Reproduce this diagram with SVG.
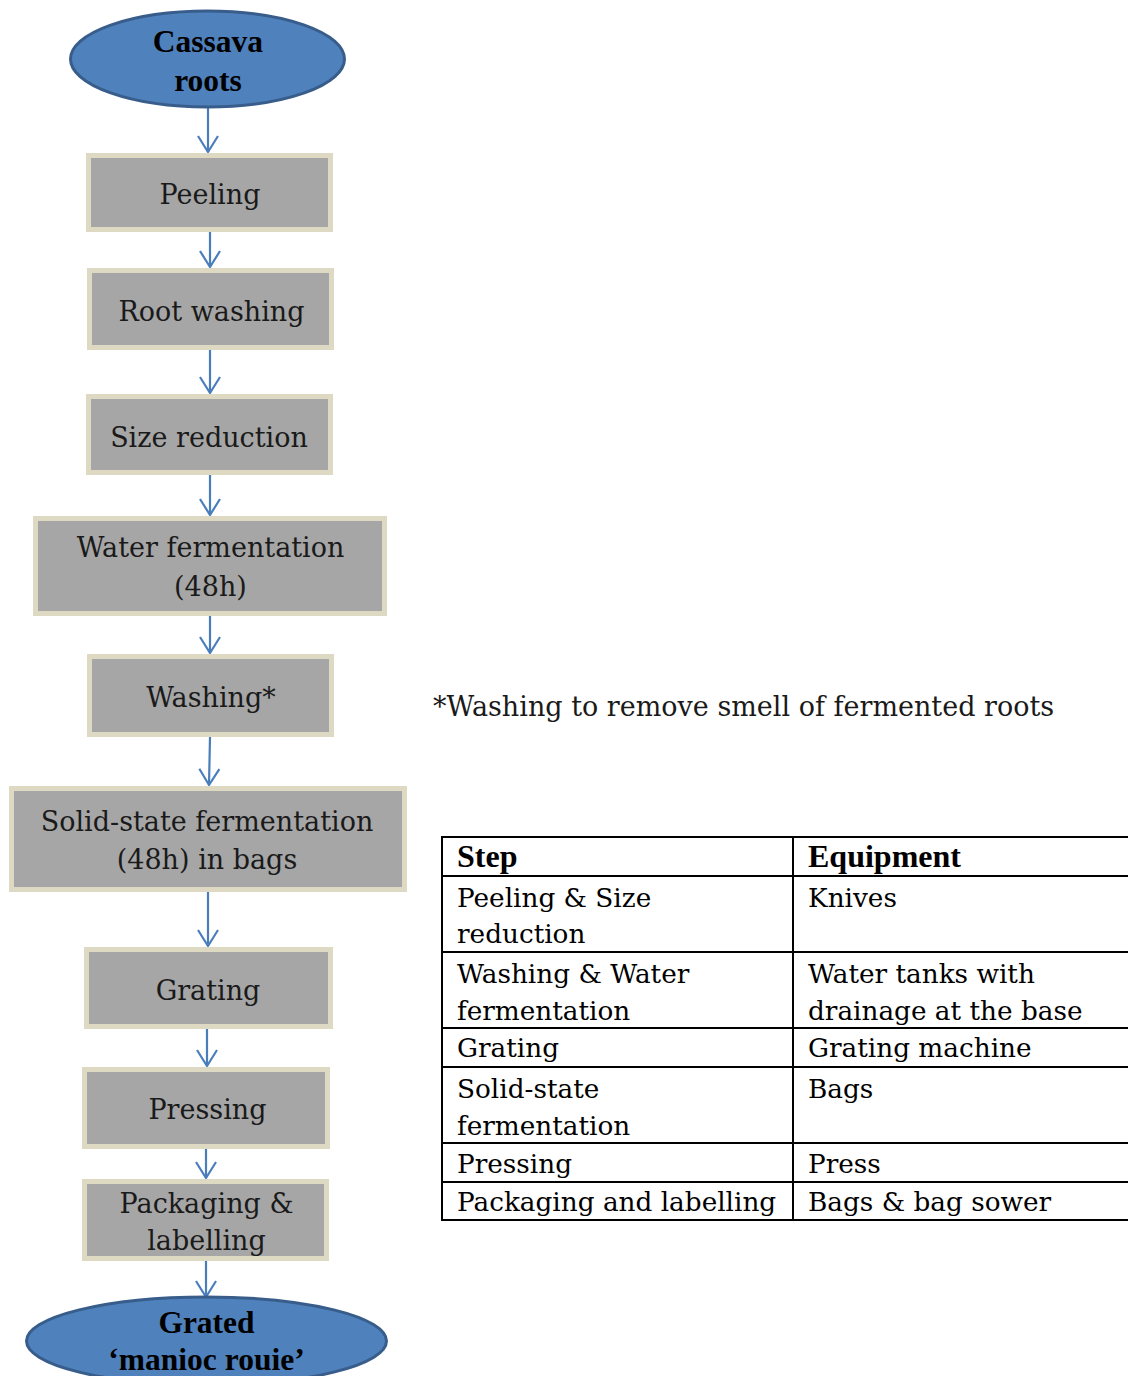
<svg xmlns="http://www.w3.org/2000/svg" width="1128" height="1376" viewBox="0 0 1128 1376">
<style>
.ell{fill:#4f81bd;stroke:#385d8a;stroke-width:3}
.box{fill:#a6a6a6;stroke:#ddd9c3;stroke-width:5}
.edge{fill:none;stroke:#d0ccb6;stroke-width:1}
.bt{font-family:"DejaVu Serif","Liberation Serif",serif;font-size:27px;fill:#1a1a1a;text-anchor:middle}
.et{font-family:"Liberation Serif",serif;font-weight:bold;font-size:31.5px;fill:#000;text-anchor:middle}
.tt{font-family:"DejaVu Serif","Liberation Serif",serif;font-size:26.3px;fill:#000}
.th{font-family:"Liberation Serif",serif;font-weight:bold;font-size:32px;fill:#000}
.conn line{stroke:#4a7ebb;stroke-width:2.2;fill:none;marker-end:url(#arr)}
.tbl line{stroke:#000;stroke-width:2}
</style>
<defs>
<marker id="arr" markerUnits="userSpaceOnUse" markerWidth="40" markerHeight="40" refX="0" refY="0" viewBox="-20 -20 40 40" orient="auto" overflow="visible">
<path d="M-16,-10 L0,0 L-16,10" fill="none" stroke="#4a7ebb" stroke-width="2.2"/>
</marker>
</defs>
<rect width="1128" height="1376" fill="#fff"/>

<g id="connectors" class="conn">
<line x1="208" y1="108" x2="208" y2="152"/>
<line x1="210" y1="232" x2="210" y2="267"/>
<line x1="210" y1="350" x2="210" y2="393"/>
<line x1="210" y1="475" x2="210" y2="515"/>
<line x1="210" y1="616" x2="210" y2="653"/>
<line x1="210" y1="737" x2="209" y2="785"/>
<line x1="208" y1="892" x2="208" y2="946"/>
<line x1="207" y1="1029" x2="207" y2="1066"/>
<line x1="206" y1="1149" x2="206" y2="1178"/>
<line x1="206" y1="1261" x2="206" y2="1297"/>
</g>

<g id="n-cassava">
<ellipse class="ell" cx="207.5" cy="59" rx="137" ry="48"/>
<text class="et" x="208" y="52">Cassava</text>
<text class="et" x="208" y="91">roots</text>
</g>

<g id="n-peeling">
<rect class="box" x="88.5" y="155.5" width="242" height="74"/>
<text class="bt" x="210" y="204">Peeling</text>
</g>

<g id="n-rootwashing">
<rect class="box" x="89.5" y="270.5" width="242" height="77"/>
<text class="bt" x="211.5" y="321">Root washing</text>
</g>

<g id="n-sizereduction">
<rect class="box" x="88.5" y="396.5" width="242" height="76"/>
<text class="bt" x="209" y="447">Size reduction</text>
</g>

<g id="n-waterferm">
<rect class="box" x="35.5" y="518.5" width="349" height="95"/>
<text class="bt" x="210.5" y="557">Water fermentation</text>
<text class="bt" x="210.5" y="596">(48h)</text>
</g>

<g id="n-washing">
<rect class="box" x="89.5" y="656.5" width="242" height="78"/>
<text class="bt" x="211" y="707">Washing*</text>
</g>

<g id="n-solidstate">
<rect class="box" x="11.5" y="788.5" width="393" height="101"/>
<text class="bt" x="207" y="831">Solid-state fermentation</text>
<text class="bt" x="207" y="869">(48h) in bags</text>
</g>

<g id="n-grating">
<rect class="box" x="86.5" y="949.5" width="244" height="77"/>
<text class="bt" x="208" y="1000">Grating</text>
</g>

<g id="n-pressing">
<rect class="box" x="84.5" y="1069.5" width="243" height="77"/>
<text class="bt" x="207.5" y="1119">Pressing</text>
</g>

<g id="n-packaging">
<rect class="box" x="84.5" y="1181.5" width="242" height="77"/>
<text class="bt" x="206.5" y="1213">Packaging &amp;</text>
<text class="bt" x="206.5" y="1250">labelling</text>
</g>

<g id="n-grated">
<ellipse class="ell" cx="206.5" cy="1341" rx="180" ry="44"/>
<text class="et" x="206.5" y="1333">Grated</text>
<text class="et" x="206.5" y="1370">‘manioc rouie’</text>
</g>

<g id="note">
<text class="bt" x="433" y="716" style="text-anchor:start">*Washing to remove smell of fermented roots</text>
</g>

<g id="table">
<g class="tbl">
<line x1="441" y1="837" x2="1128" y2="837"/>
<line x1="441" y1="876" x2="1128" y2="876"/>
<line x1="441" y1="952" x2="1128" y2="952"/>
<line x1="441" y1="1028" x2="1128" y2="1028"/>
<line x1="441" y1="1067" x2="1128" y2="1067"/>
<line x1="441" y1="1143" x2="1128" y2="1143"/>
<line x1="441" y1="1182" x2="1128" y2="1182"/>
<line x1="441" y1="1220" x2="1128" y2="1220"/>
<line x1="442" y1="836" x2="442" y2="1221"/>
<line x1="793" y1="836" x2="793" y2="1221"/>
</g>
<text class="th" x="457" y="867">Step</text>
<text class="th" x="808" y="867">Equipment</text>
<text class="tt" x="457" y="907">Peeling &amp; Size</text>
<text class="tt" x="457" y="943">reduction</text>
<text class="tt" x="808" y="907">Knives</text>
<text class="tt" x="457" y="983">Washing &amp; Water</text>
<text class="tt" x="457" y="1020">fermentation</text>
<text class="tt" x="808" y="983">Water tanks with</text>
<text class="tt" x="808" y="1020">drainage at the base</text>
<text class="tt" x="457" y="1057">Grating</text>
<text class="tt" x="808" y="1057">Grating machine</text>
<text class="tt" x="457" y="1098">Solid-state</text>
<text class="tt" x="457" y="1135">fermentation</text>
<text class="tt" x="808" y="1098">Bags</text>
<text class="tt" x="457" y="1173">Pressing</text>
<text class="tt" x="808" y="1173">Press</text>
<text class="tt" x="457" y="1211">Packaging and labelling</text>
<text class="tt" x="808" y="1211">Bags &amp; bag sower</text>
</g>
</svg>
